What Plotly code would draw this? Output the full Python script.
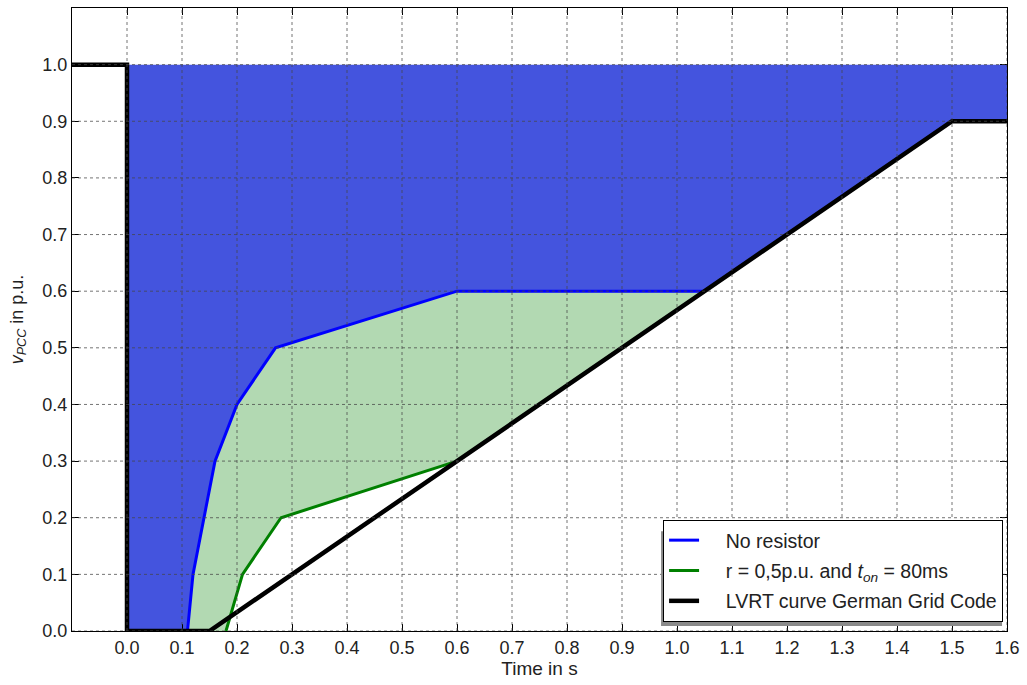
import plotly.graph_objects as go

# LVRT limit curve (German Grid Code)
lvrt_t = [-0.1, 0.0, 0.0, 0.15, 1.5, 1.6]
lvrt_v = [1.0, 1.0, 0.0, 0.0, 0.9, 0.9]

# Voltage recovery without resistor
nores_t = [0.11, 0.12, 0.16, 0.20, 0.27, 0.60, 1.05]
nores_v = [0.0, 0.1, 0.3, 0.4, 0.5, 0.6, 0.6]

# Voltage recovery with r = 0.5 p.u., t_on = 80 ms
res_t = [0.18, 0.21, 0.28, 0.60]
res_v = [0.0, 0.1, 0.2, 0.3]

x_ticks = [round(0.1 * i, 1) for i in range(17)]
y_ticks = [round(0.1 * i, 1) for i in range(11)]

BLUE_FILL = "#4454de"
GREEN_FILL = "#b2d9b2"
PAD = "\u00a0" * 4

fig = go.Figure()

# Region above the no-resistor curve, bounded by nominal voltage
blue_x = [0.0, lvrt_t[-1], lvrt_t[-1], lvrt_t[-2]] + nores_t[::-1] + [0.0]
blue_y = [1.0, 1.0, lvrt_v[-1], lvrt_v[-2]] + nores_v[::-1] + [0.0]
fig.add_trace(go.Scatter(x=blue_x, y=blue_y, fill="toself", fillcolor=BLUE_FILL,
                         mode="none", showlegend=False, hoverinfo="skip"))

# Region gained by the resistor
green_x = nores_t + res_t[::-1]
green_y = nores_v + res_v[::-1]
fig.add_trace(go.Scatter(x=green_x, y=green_y, fill="toself", fillcolor=GREEN_FILL,
                         mode="none", showlegend=False, hoverinfo="skip"))

fig.add_trace(go.Scatter(x=nores_t, y=nores_v, mode="lines", name=PAD + "No resistor",
                         line=dict(color="#0000ff", width=3), legendgroup="a"))
fig.add_trace(go.Scatter(x=res_t, y=res_v, mode="lines",
                         name=PAD + "r = 0,5p.u. and <i>t</i><sub><i>on</i></sub> = 80ms",
                         line=dict(color="#008000", width=3), legendgroup="b"))
fig.add_trace(go.Scatter(x=lvrt_t, y=lvrt_v, mode="lines",
                         name=PAD + "LVRT curve German Grid Code",
                         line=dict(color="#000000", width=4.5), legendgroup="c"))

# Dotted grid drawn over the filled areas
grid_style = dict(color="rgba(70,70,70,0.75)", width=1, dash="3px,3px")
for xv in x_ticks:
    fig.add_shape(type="line", xref="x", yref="paper", x0=xv, x1=xv, y0=0, y1=1,
                  line=grid_style, layer="above")
for yv in y_ticks:
    fig.add_shape(type="line", xref="paper", yref="y", x0=0, x1=1, y0=yv, y1=yv,
                  line=grid_style, layer="above")

# Legend shadow, offset down and to the right of the legend box
fig.add_shape(type="rect", xref="paper", yref="paper",
              x0=0.63, x1=0.9947, y0=0.008, y1=0.16,
              fillcolor="#8a8a8a", line=dict(width=0), layer="above")

font_family = "Liberation Sans, Arial, sans-serif"
axis_common = dict(showgrid=False, zeroline=False, showline=True, linecolor="black",
                   linewidth=1, mirror="allticks", ticks="inside", ticklen=7,
                   tickcolor="black", tickfont=dict(size=18, color="#222"))

fig.update_layout(
    width=1027, height=685,
    margin=dict(l=72, r=17, t=7, b=54),
    plot_bgcolor="white", paper_bgcolor="white",
    font=dict(family=font_family, color="#222"),
    xaxis=dict(range=[-0.1, 1.6], tickvals=x_ticks,
               ticktext=[f"{v:.1f}" for v in x_ticks],
               title=dict(text="Time in s", font=dict(size=19), standoff=3),
               **axis_common),
    yaxis=dict(range=[0, 1.1], tickvals=y_ticks,
               ticktext=[f"{v:.1f}" for v in y_ticks],
               title=dict(text="<i>v</i><sub><i>PCC</i></sub> in p.u.",
                          font=dict(size=18), standoff=14),
               **axis_common),
    legend=dict(x=0.9958, xanchor="right", y=0.0145, yanchor="bottom",
                bgcolor="white", bordercolor="black", borderwidth=1,
                font=dict(size=19.5, color="#222"), itemwidth=30,
                tracegroupgap=2, traceorder="grouped"),
)

fig.write_html("out.html")
